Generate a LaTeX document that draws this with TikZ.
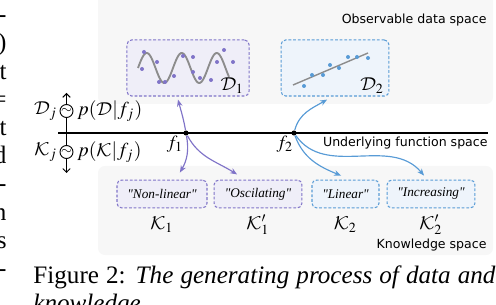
\documentclass[tikz,border=0pt]{standalone}
\usepackage{mathptmx}
\DeclareMathAlphabet{\mathcal}{OMS}{cmsy}{m}{n}
\usepackage[no-math]{fontspec}
\setmainfont{Liberation Serif}
\setsansfont{DejaVu Sans}
\usetikzlibrary{arrows.meta,positioning}

\definecolor{kpurple}{RGB}{128,116,200}
\definecolor{kblue}{RGB}{88,155,214}
\definecolor{kpurplefill}{RGB}{239,238,248}
\definecolor{kbluefill}{RGB}{238,244,251}
\definecolor{panelgray}{RGB}{247,247,247}
\definecolor{curvegray}{RGB}{140,140,140}

\newcommand{\qt}[1]{\textquotedbl#1\textquotedbl}

\tikzset{
  spacelabel/.style={font=\sffamily\fontsize{5.4}{6}\selectfont, anchor=east, inner sep=0pt},
  databox/.style={dash pattern=on 1.2pt off 0.8pt, rounded corners=2pt, line width=0.45pt, minimum height=24.1pt, inner sep=0pt},
  knowbox/.style={dash pattern=on 1.2pt off 0.8pt, rounded corners=2pt, line width=0.45pt, minimum height=12pt, inner sep=0pt, font=\itshape\fontsize{5.7}{7}\selectfont},
  purpleset/.style={draw=kpurple, fill=kpurplefill},
  blueset/.style={draw=kblue, fill=kbluefill},
  genarrow/.style={draw=#1, line width=0.5pt, -{Stealth[length=3pt,width=2.4pt]}},
  mathlabel/.style={font=\fontsize{8}{9}\selectfont, inner sep=0pt},
  sidelabel/.style={font=\fontsize{8.5}{10}\selectfont, inner sep=0pt},
  sampler/.style={circle, draw, line width=0.4pt, minimum size=5.6pt, inner sep=0pt, font=\fontsize{6}{6}\selectfont},
  samparrow/.style={line width=0.4pt, -{Straight Barb[length=1.6pt,width=3.2pt]}},
  pagetext/.style={anchor=base west, inner sep=0pt, font=\fontsize{10.8}{13}\selectfont},
}

\begin{document}
\begin{tikzpicture}[x=0.43pt, y=0.43pt]
  % Fix the canvas to the reference size
  \useasboundingbox (0,0) rectangle (496,304);
  \clip (0,0) rectangle (496,304);

  % Background panels
  \fill[panelgray, rounded corners=3pt] (98,200) rectangle (493,330);
  \fill[panelgray, rounded corners=3pt] (98,49) rectangle (493,138);

  % Observable data boxes
  \node[databox, purpleset, minimum width=52.5pt] (D1) at (188,236) {};
  \node[databox, blueset, minimum width=46.4pt] (D2) at (335,236) {};

  % Oscillating sample
  \draw[curvegray, line width=0.8pt] plot[domain=138:229, samples=90, smooth] (\x, {236+15*sin(10.2857*(\x-138))});
  \foreach \ptx/\pty in {144/252, 157/242, 142/235, 159/222, 165/222, 174/228, 183/248,
                         193/247, 193/232, 200/226, 211/224, 217/242, 224/254, 233/242}
    \fill[kpurple] (\ptx,\pty) circle (2);

  % Linear sample
  \draw[curvegray, line width=0.6pt] (293,219) -- (368,251);
  \foreach \ptx/\pty in {304/218, 312/229, 323/229, 330/239, 339/236, 348/247, 357/247, 368/246}
    \fill[kblue] (\ptx,\pty) circle (2);

  \node[mathlabel, anchor=south east] (D1lab) at ([xshift=-2.2pt, yshift=1.3pt]D1.south east) {$\mathcal{D}_1$};
  \node[mathlabel, anchor=south east] (D2lab) at ([xshift=-2.2pt, yshift=1.3pt]D2.south east) {$\mathcal{D}_2$};

  % Underlying function axis
  \coordinate (axisL) at (58,171);
  \coordinate (axisR) at (488,171);
  \draw[line width=0.8pt] (axisL) -- (axisR);
  \node[circle, fill, inner sep=0pt, minimum size=2.2pt] (f1) at (186,171) {};
  \node[circle, fill, inner sep=0pt, minimum size=2.2pt] (f2) at (294,171) {};
  \node[mathlabel] (f1lab) at ([shift={(-4.7pt,-4.7pt)}]f1) {$f_1$};
  \node[mathlabel] (f2lab) at ([shift={(-3.9pt,-4.7pt)}]f2) {$f_2$};

  % Knowledge boxes
  \node[knowbox, purpleset, minimum width=38.7pt] (K1) at (162,110) {\qt{Non-linear}};
  \node[knowbox, purpleset, minimum width=37.8pt] (K1p) at (258,110) {\qt{Oscilating}};
  \node[knowbox, blueset, minimum width=28.8pt] (K2) at (345.5,110) {\qt{Linear}};
  \node[knowbox, blueset, minimum width=37.8pt] (K2p) at (431,110) {\qt{Increasing}};
  \node[mathlabel, anchor=base] (K1lab) at ([yshift=-9pt]K1.south) {$\mathcal{K}_1$};
  \node[mathlabel, anchor=base] (K1plab) at ([yshift=-9pt]K1p.south) {$\mathcal{K}_1'$};
  \node[mathlabel, anchor=base] (K2lab) at ([yshift=-9pt]K2.south) {$\mathcal{K}_2$};
  \node[mathlabel, anchor=base] (K2plab) at ([yshift=-9pt]K2p.south) {$\mathcal{K}_2'$};

  % Space names
  \node[spacelabel] (obs) at (487,284) {Observable data space};
  \node[spacelabel] (fun) at (488,161) {Underlying function space};
  \node[spacelabel] (know) at (487,59) {Knowledge space};

  % Generating arrows
  \draw[genarrow=kpurple] (f1) to[out=100, in=-75] ([xshift=-4.3pt, yshift=-1.3pt]D1.south);
  \draw[genarrow=kpurple] (f1) to[out=-80, in=60] ([xshift=7.7pt, yshift=3pt]K1.north);
  \draw[genarrow=kpurple] (f1) to[out=-62, in=148] ([xshift=-9pt, yshift=2.2pt]K1p.north);
  \draw[genarrow=kblue] (f2) to[out=75, in=210] ([xshift=-3.4pt, yshift=-1.3pt]D2.south);
  \draw[genarrow=kblue] (f2) to[out=-70, in=158] ([xshift=-1.9pt, yshift=1.7pt]K2.north);
  \draw[genarrow=kblue] (f2) to[out=-55, in=130] ([xshift=-3pt, yshift=1.7pt]K2p.north);

  % Sampling from f_j
  \node[sampler] (sampD) at (66.5,193) {$\sim$};
  \node[sampler] (sampK) at (66.5,152) {$\sim$};
  \coordinate (sampDtip) at (66.5,211);
  \coordinate (sampKtip) at (66.5,131);
  \draw[line width=0.4pt] (sampD.south) -- (sampD |- axisL);
  \draw[samparrow] (sampD.north) -- (sampDtip);
  \draw[line width=0.4pt] (sampK |- axisL) -- (sampK.north);
  \draw[samparrow] (sampK.south) -- (sampKtip);
  \node[sidelabel, left=0.8pt of sampD] (Dj) {$\mathcal{D}_j$};
  \node[sidelabel, left=0.8pt of sampK] (Kj) {$\mathcal{K}_j$};
  \node[sidelabel, right=1.5pt of sampD] (pD) {$p(\mathcal{D}|f_j)$};
  \node[sidelabel, right=1.5pt of sampK] (pK) {$p(\mathcal{K}|f_j)$};

  % Page text around the figure
  \foreach \ch [count=\i] in {-, {)}, t, =, t, d, -, n, s, -}
    \node[pagetext, anchor=base east] (frag\i) at (7, {304-(22.8+28.2*(\i-1))}) {\ch};
  \node[pagetext] (cap1) at (33,21) {\makebox[198.7pt][s]{Figure 2: \textit{The generating process of data and}}};
  \node[pagetext] (cap2) at (33,-7) {\textit{knowledge.}};
\end{tikzpicture}
\end{document}
